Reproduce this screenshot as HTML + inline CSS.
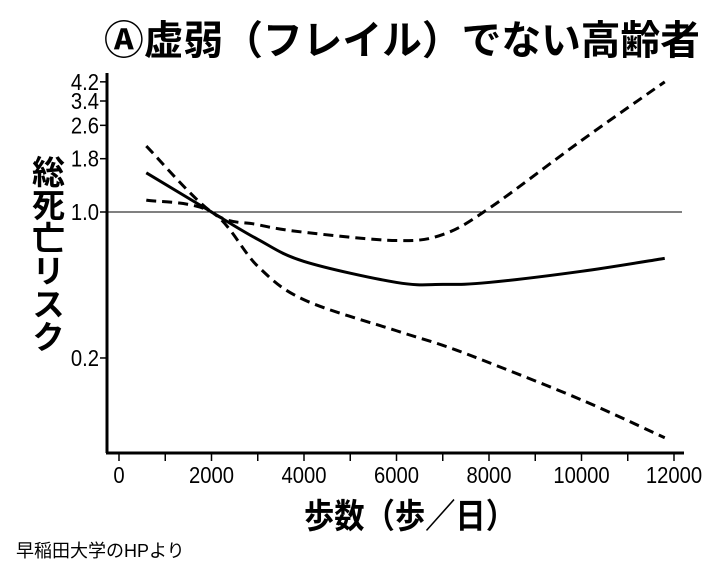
<!DOCTYPE html>
<html><head><meta charset="utf-8"><style>
body{margin:0;background:#fff;width:714px;height:580px;overflow:hidden;font-family:"Liberation Sans","Noto Sans CJK JP",sans-serif}
svg text{font-family:"Liberation Sans","Noto Sans CJK JP",sans-serif}
</style></head><body>
<svg width="714" height="580" id="c">
<text x="402" y="54" font-size="40" font-weight="bold" text-anchor="middle" textLength="596" lengthAdjust="spacingAndGlyphs">Ⓐ虚弱（フレイル）でない高齢者</text>
<text x="46" y="155" font-size="33" font-weight="bold" style="writing-mode:vertical-rl" text-anchor="start">総死亡リスク</text>
<text x="410" y="528" font-size="34" font-weight="bold" text-anchor="middle" textLength="212" lengthAdjust="spacingAndGlyphs">歩数（歩／日）</text>
<text x="16" y="557" font-size="18">早稲田大学のHPより</text>
<g id="g"></g>
</svg>
<script>
const xTicks=[0,2000,4000,6000,8000,10000,12000];
const yTicks=[0.2,1.0,1.8,2.6,3.4,4.2];
const steps=[590,2000,3000,4000,6000,7000,8000,10000,11800];
const estimate=[1.54,1.0,0.74,0.58,0.46,0.45,0.46,0.52,0.60];
const upperCI=[2.07,1.0,0.87,0.80,0.73,0.78,1.04,2.2,4.2];
const lowerCI=[1.14,1.0,0.55,0.38,0.27,0.23,0.19,0.126,0.083];
const NS='http://www.w3.org/2000/svg',g=document.getElementById('g');
const X=v=>119+v*0.04625, Y=v=>212-90.7*Math.log(v);
function mk(t,a){const e=document.createElementNS(NS,t);for(const k in a)e.setAttribute(k,a[k]);g.appendChild(e);return e;}
let e=mk('line',{x1:107,y1:73,x2:107,y2:453,stroke:'#000','stroke-width':3});

e=mk('line',{x1:106,y1:453,x2:684,y2:453,stroke:'#000','stroke-width':3});

e=mk('line',{x1:107,y1:Y(1),x2:682,y2:Y(1),stroke:'#000','stroke-width':1});

for(let v=0;v<=12000;v+=1000){e=mk('line',{x1:X(v),y1:453,x2:X(v),y2:461,stroke:'#000','stroke-width':1.5});
}
xTicks.forEach(v=>{e=mk('text',{x:X(v),y:483,'font-size':23,'text-anchor':'middle'});e.textContent=v;
e.setAttribute('transform','translate('+X(v)+',0) scale(0.88,1) translate('+(-X(v))+',0)');
});
yTicks.forEach(v=>{e=mk('line',{x1:100,y1:Y(v),x2:107,y2:Y(v),stroke:'#000','stroke-width':1.5});

e=mk('text',{x:99,y:Y(v)+8,'font-size':23,'text-anchor':'end'});e.textContent=v.toFixed(1);
e.setAttribute('transform','translate(99,0) scale(0.88,1) translate(-99,0)');
});
function path(vals){const p=steps.map((s,i)=>[X(s),Y(vals[i])]);let d='M'+p[0];
for(let i=0;i<p.length-1;i++){const a=p[i-1]||p[i],b=p[i],c=p[i+1],n=p[i+2]||c;
d+=' C'+[b[0]+(c[0]-a[0])/6,b[1]+(c[1]-a[1])/6]+' '+[c[0]-(n[0]-b[0])/6,c[1]-(n[1]-b[1])/6]+' '+c;}return d;}
e=mk('path',{d:path(estimate),fill:'none',stroke:'#000','stroke-width':3});

e=mk('path',{d:path(upperCI),fill:'none',stroke:'#000','stroke-width':3,'stroke-dasharray':'10,6'});

e=mk('path',{d:path(lowerCI),fill:'none',stroke:'#000','stroke-width':3,'stroke-dasharray':'10,6'});

</script>
</body></html>
